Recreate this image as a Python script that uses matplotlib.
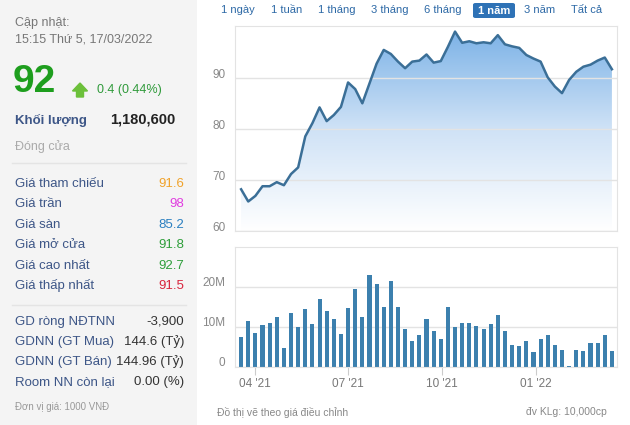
import matplotlib
matplotlib.use("Agg")
import matplotlib.pyplot as plt
import matplotlib.dates as mdates
from matplotlib.colors import LinearSegmentedColormap
from matplotlib.patches import Rectangle, FancyBboxPatch, FancyArrow
from matplotlib.transforms import ScaledTranslation
from matplotlib.lines import Line2D
import numpy as np
import pandas as pd

plt.rcParams['font.family'] = ['Liberation Sans', 'DejaVu Sans']

dates = pd.date_range(end="2022-03-17", periods=53, freq="7D")
price = [68.2, 65.8, 66.9, 68.8, 68.8, 69.6, 69.0, 71.2, 72.5, 78.6,
         81.2, 84.3, 81.6, 82.8, 84.4, 89.2, 87.9, 85.1, 89.0, 92.9,
         95.6, 94.8, 93.3, 92.0, 93.3, 93.5, 94.7, 93.1, 93.4, 96.2,
         99.2, 97.0, 97.3, 96.9, 97.1, 96.9, 98.5, 96.7, 96.3, 96.0,
         94.6, 93.9, 93.3, 90.2, 88.4, 87.1, 89.7, 91.3, 92.3, 92.7,
         93.5, 94.1, 91.8]
volume_m = [7.6, 11.4, 8.5, 10.4, 10.9, 12.6, 4.7, 13.6, 10.0, 14.4,
            10.7, 17.1, 14.1, 11.9, 8.3, 14.8, 19.5, 12.6, 22.9, 20.7,
            15.1, 21.4, 15.1, 9.6, 6.4, 8.1, 11.9, 9.0, 6.9, 14.9,
            10.0, 10.9, 11.0, 10.3, 9.6, 10.8, 12.9, 9.1, 5.4, 5.2,
            6.6, 3.7, 7.1, 8.1, 5.4, 4.2, 0.2, 4.2, 3.9, 5.9,
            6.1, 8.1, 3.9]

month_ticks = pd.to_datetime(["2021-04-01", "2021-07-01", "2021-10-01", "2022-01-01"])
month_labels = ["04 '21", "07 '21", "10 '21", "01 '22"]
price_ticks = [60, 70, 80, 90]
vol_ticks = [0, 10e6, 20e6]
vol_labels = ["0", "10M", "20M"]

periods = ["1 ngày", "1 tuần", "1 tháng", "3 tháng", "6 tháng", "1 năm", "3 năm", "Tất cả"]
period_x = [238, 287, 337, 390, 443, 494, 540, 587]

info_labels = ["Giá tham chiếu", "Giá trần", "Giá sàn", "Giá mở cửa", "Giá cao nhất", "Giá thấp nhất"]
info_values = ["91.6", "98", "85.2", "91.8", "92.7", "91.5"]
info_colors = ["#f0a22a", "#e03ce0", "#2a7fc0", "#2e9e3a", "#2e9e3a", "#d8243c"]
foreign_labels = ["GD ròng NĐTNN", "GDNN (GT Mua)", "GDNN (GT Bán)", "Room NN còn lại"]
foreign_values = ["-3,900", "144.6 (Tỷ)", "144.96 (Tỷ)", "0.00 (%)"]

W, H = 630, 425
fig = plt.figure(figsize=(W / 100, H / 100), dpi=100)
fig.patch.set_facecolor("white")


def fx(x):
    return x / W


def fy(y):
    return 1 - y / H


def box(l, t, r, b):
    return [fx(l), fy(b), (r - l) / W, (b - t) / H]


# left info panel
fig.patches.append(Rectangle((0, 0), fx(197), 1, transform=fig.transFigure,
                             facecolor="#f4f4f4", edgecolor="none", zorder=0))

lab_col = "#3d5687"
fig.text(fx(15), fy(23), "Cập nhật:", fontsize=9, color="#777777", va="center")
fig.text(fx(15), fy(40), "15:15 Thứ 5, 17/03/2022", fontsize=9, color="#777777", va="center")
fig.text(fx(13), fy(82), "92", fontsize=28, fontweight="bold", color="#1e9e1e", va="center")
fig.patches.append(FancyArrow(fx(80), fy(97), 0, 14 / H, width=7 / W, head_width=15 / W,
                              head_length=8 / H, length_includes_head=True,
                              transform=fig.transFigure, color="#6cc03a", zorder=3))
fig.text(fx(97), fy(90), "0.4 (0.44%)", fontsize=9, color="#2f9a3a", va="center")
fig.text(fx(15), fy(120), "Khối lượng", fontsize=9.5, fontweight="bold", color=lab_col, va="center")
fig.text(fx(175), fy(119), "1,180,600", fontsize=10.5, fontweight="bold", color="#222222",
         va="center", ha="right")
fig.text(fx(15), fy(147), "Đóng cửa", fontsize=9, color="#aaaaaa", va="center")
fig.lines.append(Line2D([fx(12), fx(186)], [fy(163), fy(163)], transform=fig.transFigure,
                        color="#e4e4e4", lw=1))

for i, (lab, val, col) in enumerate(zip(info_labels, info_values, info_colors)):
    y = 184 + i * 20.4
    fig.text(fx(15), fy(y), lab, fontsize=9.5, color=lab_col, va="center")
    fig.text(fx(184), fy(y), val, fontsize=9.5, color=col, va="center", ha="right")

fig.lines.append(Line2D([fx(12), fx(186)], [fy(305), fy(305)], transform=fig.transFigure,
                        color="#e4e4e4", lw=1))
for i, (lab, val) in enumerate(zip(foreign_labels, foreign_values)):
    y = 322 + i * 20
    fig.text(fx(15), fy(y), lab, fontsize=9.5, color=lab_col, va="center")
    fig.text(fx(184), fy(y), val, fontsize=9.5, color="#333333", va="center", ha="right")
fig.text(fx(15), fy(407), "Đơn vị giá: 1000 VNĐ", fontsize=7, color="#999999", va="center")

# period buttons
for lab, x in zip(periods, period_x):
    if lab == "1 năm":
        fig.patches.append(FancyBboxPatch((fx(473), fy(18)), 42 / W, 15 / H,
                                          boxstyle="round,pad=0,rounding_size=0.004",
                                          transform=fig.transFigure, facecolor="#2e72b6",
                                          edgecolor="none"))
        fig.text(fx(x), fy(10.5), lab, fontsize=8, fontweight="bold", color="white",
                 ha="center", va="center")
    else:
        fig.text(fx(x), fy(10), lab, fontsize=8, color="#2d69a6", ha="center", va="center")

x0 = pd.Timestamp("2021-03-12")
x1 = pd.Timestamp("2022-03-22")
grid_col = "#e3e3e3"
lbl_shift = ScaledTranslation(0, 5 / 100, fig.dpi_scale_trans)

# price panel
ax = fig.add_axes(box(235, 26, 617, 231))
ax.set_xlim(x0, x1)
ax.set_ylim(60, 100.3)
xd = mdates.date2num(dates)
poly = ax.fill_between(dates, price, 60, facecolor="none", edgecolor="none")
cmap = LinearSegmentedColormap.from_list("fade", ["#ffffff", "#cfe2f6", "#78b0e6"])
grad = np.linspace(0, 1, 256).reshape(-1, 1)
img = ax.imshow(grad, cmap=cmap, origin="lower", aspect="auto",
                extent=[xd[0], xd[-1], 60, 100.3], zorder=1)
img.set_clip_path(poly.get_paths()[0], transform=ax.transData)
ax.plot(dates, price, color="#3b6f97", lw=1.8, zorder=3, solid_joinstyle="round")
ax.set_yticks(price_ticks)
ax.grid(axis="y", color=grid_col, lw=1, zorder=0)
ax.set_xticks([])
ax.tick_params(axis="y", length=0, pad=7, labelsize=8.5, labelcolor="#888888")
for lbl in ax.get_yticklabels():
    lbl.set_transform(lbl.get_transform() + lbl_shift)
for s in ax.spines.values():
    s.set_color(grid_col)
ax.set_xlim(x0, x1)

# volume panel
axv = fig.add_axes(box(235, 247, 617, 367))
axv.bar(dates, np.array(volume_m) * 1e6, width=4, color="#3c80ae", zorder=2)
axv.set_xlim(x0, x1)
axv.set_ylim(0, 30e6)
axv.set_yticks(vol_ticks)
axv.set_yticklabels(vol_labels)
axv.grid(axis="y", color=grid_col, lw=1, zorder=0)
axv.tick_params(axis="y", length=0, pad=7, labelsize=8.5, labelcolor="#888888")
for lbl in axv.get_yticklabels():
    lbl.set_transform(lbl.get_transform() + lbl_shift)
axv.set_xticks(month_ticks)
axv.set_xticklabels(month_labels)
axv.tick_params(axis="x", length=6, color="#cccccc", pad=2, labelsize=8.5, labelcolor="#777777")
for s in axv.spines.values():
    s.set_color(grid_col)

fig.text(fx(217), fy(412), "Đồ thị vẽ theo giá điều chỉnh", fontsize=7.5, color="#888888", va="center")
fig.text(fx(607), fy(412), "đv KLg: 10,000cp", fontsize=7.5, color="#888888", va="center", ha="right")

fig.savefig("out.png", dpi=100)
